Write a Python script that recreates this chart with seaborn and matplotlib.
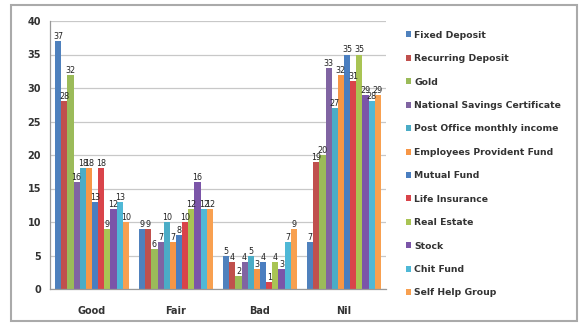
import numpy as np
import pandas as pd
import seaborn as sns
import matplotlib.pyplot as plt
from matplotlib.patches import Rectangle

# ratings on the x axis
ratings = ["Good", "Fair", "Bad", "Nil"]

# investment options (hue)
instruments = [
    "Fixed Deposit", "Recurring Deposit", "Gold", "National Savings Certificate",
    "Post Office monthly income", "Employees Provident Fund", "Mutual Fund",
    "Life Insurance", "Real Estate", "Stock", "Chit Fund", "Self Help Group",
]

# values per instrument, in the order Good, Fair, Bad, Nil
fixed_deposit = [37, 9, 5, 7]
recurring_deposit = [28, 9, 4, 19]
gold = [32, 6, 2, 20]
nsc = [16, 7, 4, 33]
post_office = [18, 10, 5, 27]
epf = [18, 7, 3, 32]
mutual_fund = [13, 8, 4, 35]
life_insurance = [18, 10, 1, 31]
real_estate = [9, 12, 4, 35]
stock = [12, 16, 3, 29]
chit_fund = [13, 12, 7, 28]
self_help = [10, 12, 9, 29]

series = [fixed_deposit, recurring_deposit, gold, nsc, post_office, epf,
          mutual_fund, life_insurance, real_estate, stock, chit_fund, self_help]

colors = ["#4F81BD", "#C0504D", "#9BBB59", "#8064A2", "#4BACC6", "#F79646",
          "#4A7EC0", "#D9444A", "#A9C454", "#7B55A8", "#4FB8D6", "#F8A050"]

rows = []
for name, vals in zip(instruments, series):
    for r, v in zip(ratings, vals):
        rows.append({"Rating": r, "Instrument": name, "Count": v})
df = pd.DataFrame(rows)

sns.set_style("white")
plt.rcParams["font.family"] = ["DejaVu Sans"]

fig = plt.figure(figsize=(5.81, 3.29), dpi=100)
ax = fig.add_axes([50 / 581, 1 - 289 / 329, 336 / 581, 268 / 329])

sns.barplot(data=df, x="Rating", y="Count", hue="Instrument", order=ratings,
            hue_order=instruments, palette=colors, width=0.88, saturation=1,
            linewidth=0, ax=ax)

# value labels on top of every bar
for cont in ax.containers:
    ax.bar_label(cont, fontsize=5.8, padding=0, color="#222222")

ax.set_ylim(0, 40)
ax.set_yticks(range(0, 41, 5))
ax.set_xlim(-0.5, 3.5)
ax.yaxis.grid(True, color="#c8c8c8", linewidth=0.9)
ax.set_axisbelow(True)
ax.set_xlabel("")
ax.set_ylabel("")
for s in ["top", "right"]:
    ax.spines[s].set_visible(False)
for s in ["left", "bottom"]:
    ax.spines[s].set_color("#999999")
    ax.spines[s].set_linewidth(0.9)

ax.set_xticks([-0.5, 0.5, 1.5, 2.5, 3.5], minor=True)
ax.tick_params(axis="x", which="major", length=0, pad=12, labelsize=7)
ax.tick_params(axis="x", which="minor", length=3, color="#999999", direction="out")
ax.tick_params(axis="y", length=3, color="#999999", labelsize=7)
for lab in ax.get_xticklabels() + ax.get_yticklabels():
    lab.set_fontweight("bold")
    lab.set_color("#333333")

handles, labels = ax.get_legend_handles_labels()
ax.get_legend().remove()
fig.legend(handles, labels, loc="upper left", bbox_to_anchor=(402 / 581, 1 - 27 / 329),
           frameon=False, fontsize=6.7, handlelength=0.6, handleheight=0.6,
           handletextpad=0.3, labelspacing=1.55, borderaxespad=0)
for t in fig.legends[0].get_texts():
    t.set_fontweight("semibold")
    t.set_color("#333333")

# grey frame around the whole chart
fig.patches.append(Rectangle((11 / 581, 8 / 329), 566 / 581, 316 / 329,
                             transform=fig.transFigure, fill=False,
                             edgecolor="#aaaaaa", linewidth=1.5))

fig.savefig("out.png", dpi=100)
